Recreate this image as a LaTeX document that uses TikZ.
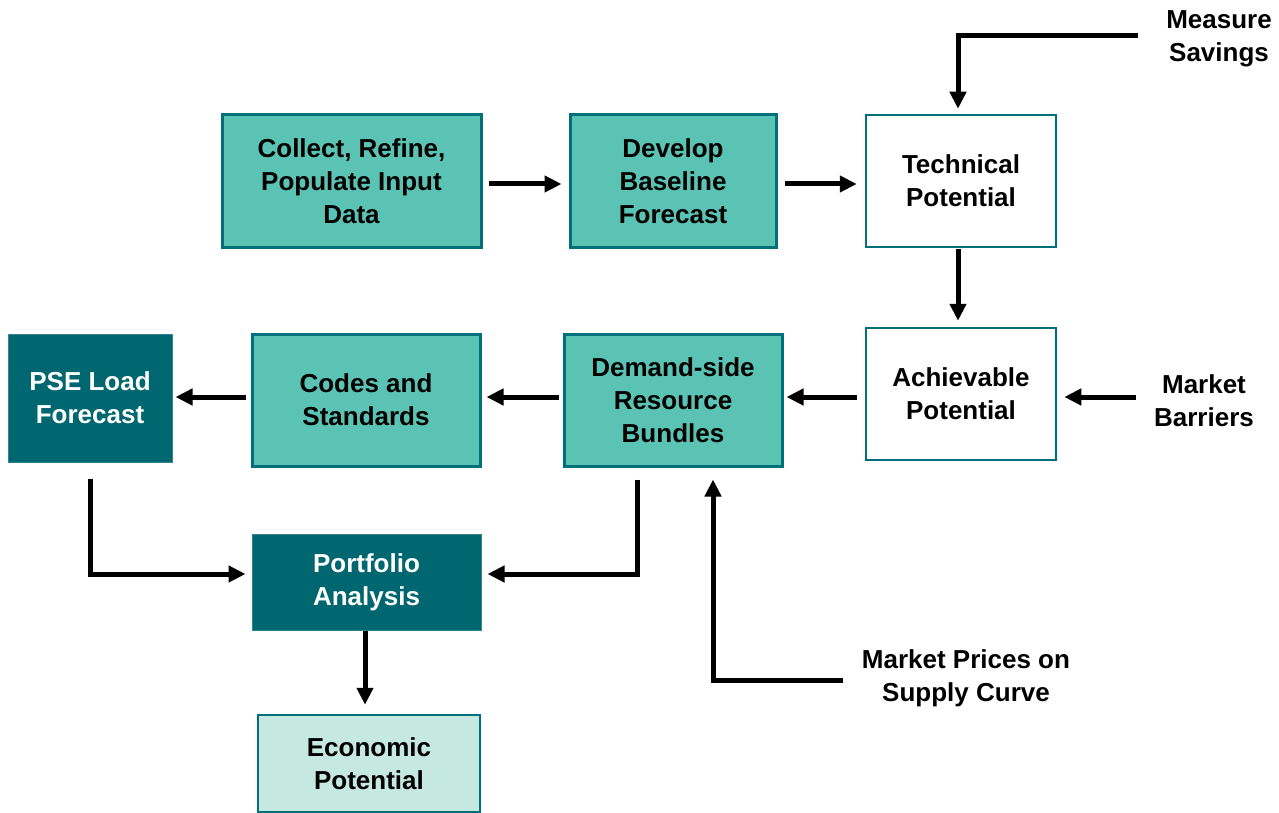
\documentclass[tikz,border=0pt]{standalone}
\usepackage{fontspec}
\setmainfont{Liberation Sans}
\usetikzlibrary{arrows.meta,calc}
\definecolor{midteal}{HTML}{5AC3B4}
\definecolor{darkteal}{HTML}{006670}
\definecolor{edgeteal}{HTML}{00707A}
\definecolor{lightteal}{HTML}{C5E8E1}
\begin{document}
\begin{tikzpicture}[x=1pt,y=-1pt,
  txt/.style={font=\bfseries\fontsize{26}{33}\selectfont, align=center, inner sep=0pt},
  box/.style={txt, draw=edgeteal, line width=3pt, minimum height=132pt},
  midbox/.style={box, fill=midteal},
  whitebox/.style={box, fill=white, line width=2.5pt},
  darkbox/.style={txt, fill=darkteal, draw=darkteal!80!white, line width=1pt, text=white},
  lightbox/.style={box, fill=lightteal, line width=2.5pt},
  arr/.style={line width=5pt, miter limit=10, line join=miter, -{Triangle[length=17pt,width=16pt]}}
]
\useasboundingbox (0,0) rectangle (1279,813);

\node[midbox, minimum width=259pt] (collect) at (351.5,181) {Collect, Refine,\\Populate Input\\Data};
\node[midbox, minimum width=206pt] (develop) at (673,181) {Develop\\Baseline\\Forecast};
\node[whitebox, minimum width=190pt] (tech) at (961,181) {Technical\\Potential};
\node[whitebox, minimum width=190pt] (achv) at (961,394) {Achievable\\Potential};
\node[midbox, minimum width=218pt] (demand) at (673,400) {Demand-side\\Resource\\Bundles};
\node[midbox, minimum width=228pt] (codes) at (366,400) {Codes and\\Standards};
\node[darkbox, minimum width=164pt, minimum height=128pt] (pse) at (90,398) {PSE Load\\Forecast};
\node[darkbox, minimum width=229pt, minimum height=96pt] (port) at (366.5,582) {Portfolio\\Analysis};
\node[lightbox, minimum width=222pt, minimum height=97pt] (econ) at (369,763.5) {Economic\\Potential};

\node[txt] (mslabel) at (1219,39) {Measure\\Savings};
\node[txt] (mblabel) at (1204,401) {Market\\Barriers};
\node[txt] (mplabel) at (966,678) {Market Prices on\\Supply Curve};

\coordinate (ms) at (1138,36);
\coordinate (mb) at (1136,397);
\coordinate (mp) at (843,680);

\draw[arr] ($(collect.east)+(6,3)$) -- ($(develop.west)+(-7,3)$);
\draw[arr] ($(develop.east)+(7,3)$) -- ($(tech.west)+(-8,3)$);
\draw[arr] (ms) -| ($(tech.north)+(-3,-5)$);
\draw[arr] ($(tech.south)+(-3,1)$) -- ($(achv.north)+(-3,-6)$);
\draw[arr] (mb) -- ($(achv.east)+(7,3)$);
\draw[arr] ($(achv.west)+(-8,3)$) -- ($(demand.east)+(3,-3)$);
\draw[arr] ($(demand.west)+(-4,-3)$) -- ($(codes.east)+(5,-3)$);
\draw[arr] ($(codes.west)+(-5,-3)$) -- ($(pse.east)+(3,-1)$);
\draw[arr] ($(pse.south)+(0,16)$) |- ($(port.west)+(-6,-8)$);
\draw[arr] ($(demand.south)+(-36,12)$) |- ($(port.east)+(6,-8)$);
\draw[arr] (mp) -| ($(demand.south)+(40,12)$);
\draw[arr] ($(port.south)+(-1.5,0)$) -- ($(econ.north)+(-4,-9)$);
\end{tikzpicture}
\end{document}
